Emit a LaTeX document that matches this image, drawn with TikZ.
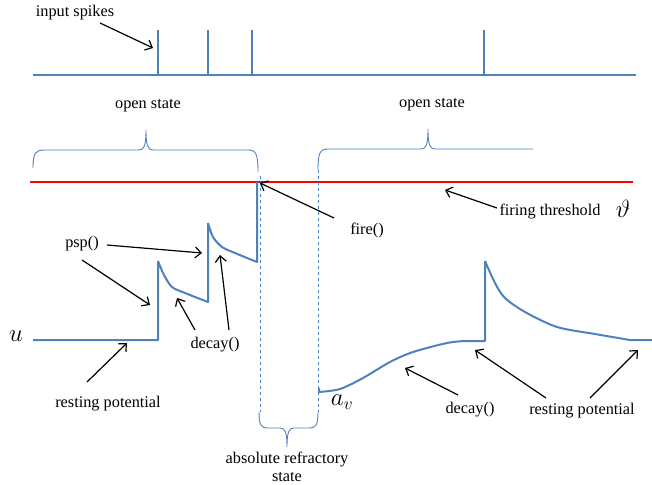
\documentclass[tikz,border=0pt]{standalone}
\usepackage{fontspec}
\setmainfont{Liberation Serif}
\newfontfamily\labelfont{Liberation Serif}
\usetikzlibrary{arrows.meta}
\definecolor{sigblue}{RGB}{79,129,189}
\tikzset{
    signal/.style = {draw=sigblue, line width=2pt, line join=round},
    thresh/.style = {draw=red, line width=2.5pt},
    bracket/.style = {draw=sigblue, line width=0.9pt},
    guide/.style = {draw=sigblue, dashed, line width=0.8pt},
    txt/.style = {font=\labelfont\fontsize{16.3}{17.5}\selectfont, inner sep=1pt},
    sym/.style = {font=\fontsize{34}{38}\selectfont, inner sep=1pt},
    arrow/.style = {draw, -{Straight Barb[length=6pt,width=11pt]}, line width=1.2pt}
}

\begin{document}
\begin{tikzpicture}[x=1pt, y=-1pt]
    \useasboundingbox (0,0) rectangle (652,484);
    % input spike train
    \draw[signal] (33,75) -- (636,75);
    \foreach \s in {158,208,252,484}
        \draw[signal] (\s,75) -- (\s,30);
    % threshold
    \draw[thresh] (30,182) -- (633,182);
    % state braces
    \draw[bracket] (33,168) .. controls (33,152) and (36,150) .. (45,150) -- (139,150)
        .. controls (144,150) and (146,146) .. (146,130)
        .. controls (146,146) and (148,150) .. (153,150) -- (248,150)
        .. controls (256,150) and (258,154) .. (258,172);
    \draw[bracket] (318,170) .. controls (318,153) and (320,149) .. (328,149) -- (421,149)
        .. controls (426,149) and (428,145) .. (428,129)
        .. controls (428,145) and (430,149) .. (435,149) -- (533,149);
    \draw[bracket] (259,412) .. controls (259,425) and (261,428) .. (268,428) -- (280,428)
        .. controls (285,428) and (287,432) .. (287,447)
        .. controls (287,432) and (289,428) .. (294,428) -- (309,428)
        .. controls (316,428) and (318,425) .. (318,412);
    \draw[guide] (260,176) -- (260,412);
    \draw[guide] (318,170) -- (318,412);
    % membrane potential
    \draw[signal] (33,340) -- (158,340) -- (158,261)
        plot[smooth] coordinates {(158,261) (164,275) (172,287) (185,293) (208,302)}
        -- (208,223)
        plot[smooth] coordinates {(208,223) (213,237) (222,247) (235,253) (257,262)}
        -- (257,182);
    \draw[signal] (319,388) -- (319,392)
        plot[smooth] coordinates {(319,392) (340,389) (363,378) (390,362) (413,352) (447,343) (465,341)}
        -- (485,341) -- (485,261)
        plot[smooth] coordinates {(485,261) (495,283) (505,298) (525,312) (557,327) (595,334) (630,340)}
        -- (652,340);
    % texts
    \node[txt] (inspk) at (75,13) {input spikes};
    \node[txt] (open1) at (148,106) {open state};
    \node[txt] (open2) at (432,105) {open state};
    \node[txt] (thr) at (550,212) {firing threshold};
    \node[sym] (theta) at (623,209) {$\vartheta$};
    \node[sym] (u) at (16,336) {$u$};
    \node[txt] (psp) at (82,244) {psp()};
    \node[txt] (dec1) at (215,345) {decay()};
    \node[txt] (rest1) at (108,404) {resting potential};
    \node[txt] (fire) at (367,230) {fire()};
    \node[sym] (av) at (342,402) {$a_{\scriptscriptstyle v}$};
    \node[txt] (dec2) at (470,410) {decay()};
    \node[txt] (rest2) at (582,411) {resting potential};
    \node[txt, align=center] (absref) at (287,467) {absolute refractory\\state};
    % arrow ends
    \coordinate (inspk-t) at (100,23);   \coordinate (inspk-h) at (153,48);
    \coordinate (psp-t1) at (107,245);   \coordinate (psp-h1) at (202,253);
    \coordinate (psp-t2) at (82,260);    \coordinate (psp-h2) at (150,305);
    \coordinate (dec1-t1) at (195,330);  \coordinate (dec1-h1) at (177,298);
    \coordinate (dec1-t2) at (229,330);  \coordinate (dec1-h2) at (220,255);
    \coordinate (rest1-t) at (87,382);   \coordinate (rest1-h) at (127,343);
    \coordinate (fire-t) at (334,218);   \coordinate (fire-h) at (260,183);
    \coordinate (thr-t) at (497,208);    \coordinate (thr-h) at (445,190);
    \coordinate (dec2-t) at (458,395);   \coordinate (dec2-h) at (405,368);
    \coordinate (rest2-t1) at (546,398); \coordinate (rest2-h1) at (475,350);
    \coordinate (rest2-t2) at (590,398); \coordinate (rest2-h2) at (638,350);
    \draw[arrow] (inspk-t) -- (inspk-h);
    \draw[arrow] (psp-t1) -- (psp-h1);
    \draw[arrow] (psp-t2) -- (psp-h2);
    \draw[arrow] (dec1-t1) -- (dec1-h1);
    \draw[arrow] (dec1-t2) -- (dec1-h2);
    \draw[arrow] (rest1-t) -- (rest1-h);
    \draw[arrow] (fire-t) -- (fire-h);
    \draw[arrow] (thr-t) -- (thr-h);
    \draw[arrow] (dec2-t) -- (dec2-h);
    \draw[arrow] (rest2-t1) -- (rest2-h1);
    \draw[arrow] (rest2-t2) -- (rest2-h2);
\end{tikzpicture}
\end{document}
